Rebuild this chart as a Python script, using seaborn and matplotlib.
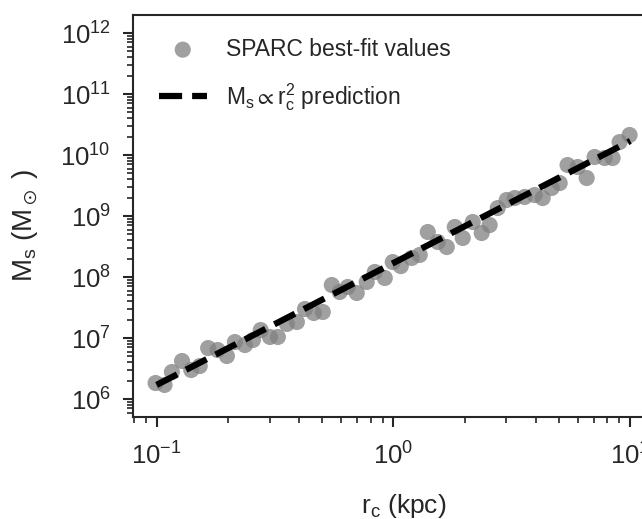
import numpy as np
import pandas as pd
import matplotlib
matplotlib.use("Agg")
import matplotlib.pyplot as plt
import seaborn as sns

# SPARC best-fit core radius (kpc) and soliton mass (Msun)
r_c = [0.099, 0.108, 0.116, 0.128, 0.140, 0.152, 0.165, 0.181, 0.198, 0.214,
       0.236, 0.255, 0.275, 0.301, 0.325, 0.355, 0.391, 0.423, 0.461, 0.503,
       0.549, 0.593, 0.641, 0.700, 0.771, 0.834, 0.919, 0.993, 1.074, 1.194,
       1.291, 1.396, 1.538, 1.679, 1.815, 1.961, 2.161, 2.358, 2.548, 2.755,
       3.006, 3.250, 3.581, 3.945, 4.266, 4.656, 5.032, 5.433, 5.995, 6.543,
       7.065, 7.796, 8.418, 9.010, 9.930]
M_s = [1.83e6, 1.70e6, 2.77e6, 4.20e6, 2.99e6, 3.47e6, 6.85e6, 6.36e6, 5.07e6, 8.59e6,
       7.67e6, 9.27e6, 1.35e7, 1.04e7, 1.04e7, 1.70e7, 1.83e7, 2.99e7, 2.57e7, 2.67e7,
       7.40e7, 5.68e7, 6.86e7, 5.47e7, 8.28e7, 1.21e8, 9.64e7, 1.76e8, 1.51e8, 2.05e8,
       2.30e8, 5.47e8, 3.75e8, 3.10e8, 6.61e8, 4.36e8, 7.98e8, 5.26e8, 7.11e8, 1.35e9,
       1.83e9, 1.97e9, 2.05e9, 2.21e9, 1.97e9, 2.88e9, 3.47e9, 6.86e9, 6.36e9, 4.20e9,
       9.27e9, 8.93e9, 8.93e9, 1.63e10, 2.13e10]

# M_s ∝ r_c^2 prediction
r_pred = [0.1, 10.0]
M_pred = [1.7e6, 1.7e10]

pts = pd.DataFrame({"r": r_c, "M": M_s})
pred = pd.DataFrame({"r": r_pred, "M": M_pred})

sns.set_style("ticks")
plt.rcParams["font.family"] = ["Liberation Sans", "DejaVu Sans"]
plt.rcParams["mathtext.fontset"] = "custom"
plt.rcParams["mathtext.rm"] = "Liberation Sans"
plt.rcParams["mathtext.it"] = "Liberation Sans"

fig = plt.figure(figsize=(6.42, 5.19), dpi=100)
ax = fig.add_axes([0.207, 0.1965, 0.804, 0.7745])

sns.scatterplot(data=pts, x="r", y="M", ax=ax, s=135, color="#808080",
                alpha=0.75, edgecolor="none", label="SPARC best-fit values",
                zorder=2)
sns.lineplot(data=pred, x="r", y="M", ax=ax, color="black", lw=4.5,
             linestyle="--", label=r"$\mathregular{M_s \propto r_c^2}$ prediction",
             zorder=3)

ax.set_xscale("log")
ax.set_yscale("log")
ax.set_xlim(0.0794, 12.0)
ax.set_ylim(5.07e5, 1.97e12)
ax.set_yticks([1e6, 1e7, 1e8, 1e9, 1e10, 1e11, 1e12])

ax.set_xlabel(r"$\mathregular{r_c}$ (kpc)", fontsize=19)
ax.set_ylabel(r"$\mathregular{M_s}$ ($\mathregular{M_\odot}$ )", fontsize=20)
ax.xaxis.set_label_coords(0.525, -0.187)
ax.yaxis.set_label_coords(-0.18, 0.478)

for s in ax.spines.values():
    s.set_linewidth(1.5)
ax.spines["right"].set_visible(False)
ax.tick_params(which="major", length=7, width=1.5, labelsize=18.5, direction="out")
ax.tick_params(which="minor", length=4, width=1.2, direction="out")
ax.tick_params(axis="x", which="major", pad=11)
ax.tick_params(axis="y", which="major", pad=9)
ax.yaxis.set_minor_locator(matplotlib.ticker.LogLocator(base=10, subs=np.arange(2, 10), numticks=20))
ax.xaxis.set_minor_locator(matplotlib.ticker.LogLocator(base=10, subs=np.arange(2, 10), numticks=20))
ax.yaxis.set_minor_formatter(matplotlib.ticker.NullFormatter())
ax.xaxis.set_minor_formatter(matplotlib.ticker.NullFormatter())

leg = ax.legend(loc="upper left", frameon=False, fontsize=16.5, handlelength=2.1,
                handletextpad=0.85, labelspacing=0.9, bbox_to_anchor=(0.01, 0.995))

fig.savefig("out.png", dpi=100)
